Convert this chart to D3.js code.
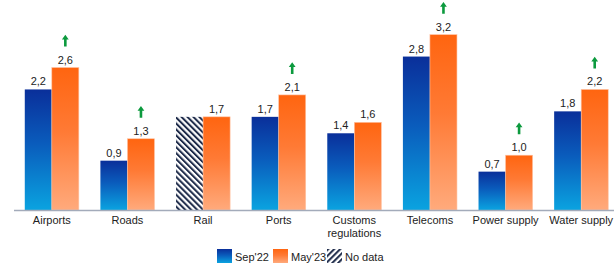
<!DOCTYPE html>
<html>
<head>
<meta charset="utf-8">
<script src="https://cdn.jsdelivr.net/npm/d3@7"></script>
<style>
  body { margin: 0; background: #fff; }
  svg { display: block; font-family: "Liberation Sans", Arial, sans-serif; }
</style>
</head>
<body>
<svg id="chart" width="614" height="263"></svg>
<script>
  // data
  var categories = ["Airports", "Roads", "Rail", "Ports", "Customs\nregulations", "Telecoms", "Power supply", "Water supply"];
  var sep22 = [2.2, 0.9, 1.7, 1.7, 1.4, 2.8, 0.7, 1.8];
  var may23 = [2.6, 1.3, 1.7, 2.1, 1.6, 3.2, 1.0, 2.2];
  var noData = [false, false, true, false, false, false, false, false];
  var improved = [true, true, false, true, false, true, true, true];
  var seriesNames = ["Sep'22", "May'23"];

  var svg = d3.select('#chart');
  var base = 210;

  var x = d3.scaleBand()
    .domain(categories)
    .range([14, 619])
    .paddingInner(0.285)
    .paddingOuter(0.1425);

  var xs = d3.scaleBand()
    .domain(seriesNames)
    .range([0, x.bandwidth()]);

  var y = d3.scaleLinear()
    .domain([0, 1])
    .range([base, base - 54.8]);

  var fmt = function(v) { return d3.format('.1f')(v).replace('.', ','); };

  var defs = svg.append('defs');
  var gb = defs.append('linearGradient').attr('id', 'gBlue').attr('x1', 0).attr('y1', 0).attr('x2', 0).attr('y2', 1);
  gb.append('stop').attr('offset', '0%').attr('stop-color', '#0a2f9a');
  gb.append('stop').attr('offset', '45%').attr('stop-color', '#0a5cbc');
  gb.append('stop').attr('offset', '100%').attr('stop-color', '#0aa3e0');
  var go = defs.append('linearGradient').attr('id', 'gOrange').attr('x1', 0).attr('y1', 0).attr('x2', 0).attr('y2', 1);
  go.append('stop').attr('offset', '0%').attr('stop-color', '#ff6510');
  go.append('stop').attr('offset', '45%').attr('stop-color', '#ff7a35');
  go.append('stop').attr('offset', '100%').attr('stop-color', '#ffaa7c');

  function hatch(id, angle) {
    var p = defs.append('pattern').attr('id', id)
      .attr('patternUnits', 'userSpaceOnUse')
      .attr('width', 4.2).attr('height', 4.2)
      .attr('patternTransform', 'rotate(' + angle + ')');
    p.append('rect').attr('width', 4.2).attr('height', 4.2).attr('fill', '#fff');
    p.append('rect').attr('width', 2).attr('height', 4.2).attr('fill', '#1e2b4a');
  }
  hatch('hatchBar', -45);
  hatch('hatchLeg', 45);

  var groups = svg.selectAll('g.cat').data(categories).enter().append('g')
    .attr('class', 'cat')
    .attr('transform', function(d) { return 'translate(' + x(d) + ',0)'; });

  // Sep'22 bars
  groups.append('rect')
    .attr('x', xs(seriesNames[0]))
    .attr('y', function(d, i) { return y(sep22[i]); })
    .attr('width', xs.bandwidth())
    .attr('height', function(d, i) { return base - y(sep22[i]); })
    .attr('fill', function(d, i) { return noData[i] ? 'url(#hatchBar)' : 'url(#gBlue)'; });

  // May'23 bars
  groups.append('rect')
    .attr('x', xs(seriesNames[1]))
    .attr('y', function(d, i) { return y(may23[i]); })
    .attr('width', xs.bandwidth())
    .attr('height', function(d, i) { return base - y(may23[i]); })
    .attr('fill', 'url(#gOrange)')
    .attr('stroke', '#ffc4a4')
    .attr('stroke-width', 0.6);

  // value labels
  groups.filter(function(d, i) { return !noData[i]; }).append('text')
    .attr('x', xs(seriesNames[0]) + xs.bandwidth() / 2)
    .attr('y', function(d) { var i = categories.indexOf(d); return y(sep22[i]) - 4; })
    .attr('text-anchor', 'middle')
    .attr('font-size', 11)
    .attr('fill', '#222')
    .text(function(d) { return fmt(sep22[categories.indexOf(d)]); });

  groups.append('text')
    .attr('x', xs(seriesNames[1]) + xs.bandwidth() / 2)
    .attr('y', function(d, i) { return y(may23[i]) - 4; })
    .attr('text-anchor', 'middle')
    .attr('font-size', 11)
    .attr('fill', '#222')
    .text(function(d, i) { return fmt(may23[i]); });

  // green arrows
  groups.filter(function(d) { return improved[categories.indexOf(d)]; }).append('path')
    .attr('transform', function(d) {
      var i = categories.indexOf(d);
      return 'translate(' + (xs(seriesNames[1]) + xs.bandwidth() / 2) + ',' + (y(may23[i]) - 21) + ')';
    })
    .attr('d', 'M-1.3,0 L-1.3,-7 L-3.4,-7 L0,-11.7 L3.4,-7 L1.3,-7 L1.3,0 Z')
    .attr('fill', '#0c9a3e');

  // axis line
  svg.append('line')
    .attr('x1', 14).attr('x2', 614)
    .attr('y1', base + 0.5).attr('y2', base + 0.5)
    .attr('stroke', '#a3abba')
    .attr('stroke-width', 1.5);

  // category labels
  groups.each(function(d) {
    var lines = d.split('\n');
    var t = d3.select(this).append('text')
      .attr('text-anchor', 'middle')
      .attr('font-size', 11)
      .attr('fill', '#222');
    lines.forEach(function(l, k) {
      t.append('tspan').attr('x', x.bandwidth() / 2).attr('y', 224 + k * 12.5).text(l);
    });
  });

  // legend
  var legend = [
    { label: "Sep'22", fill: 'url(#gBlue)', x: 217 },
    { label: "May'23", fill: 'url(#gOrange)', x: 273 },
    { label: 'No data', fill: 'url(#hatchLeg)', x: 327 }
  ];
  var lg = svg.selectAll('g.leg').data(legend).enter().append('g')
    .attr('class', 'leg')
    .attr('transform', function(d) { return 'translate(' + d.x + ',249)'; });
  lg.append('rect').attr('width', 15).attr('height', 14).attr('fill', function(d) { return d.fill; });
  lg.append('text')
    .attr('x', 18).attr('y', 11.5)
    .attr('font-size', 11)
    .attr('fill', '#222')
    .text(function(d) { return d.label; });
</script>
</body>
</html>
